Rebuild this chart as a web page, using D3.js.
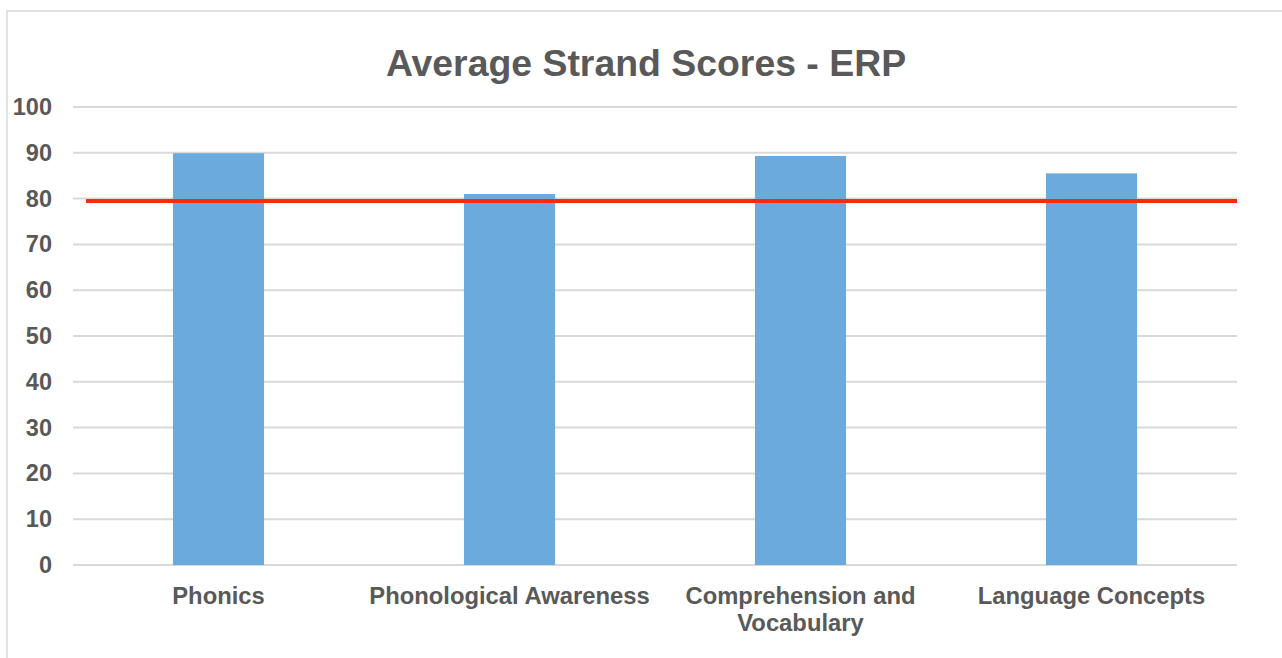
<!DOCTYPE html>
<html>
<head>
<meta charset="utf-8">
<script src="https://cdn.jsdelivr.net/npm/d3@7"></script>
<style>
  body { margin: 0; background: #fff; }
  svg { display: block; font-family: "Liberation Sans", Arial, sans-serif; }
</style>
</head>
<body>
<div id="chart"></div>
<script>
// データ
const categories = ['Phonics', 'Phonological Awareness', 'Comprehension and Vocabulary', 'Language Concepts'];
const scores = [89.9, 81.0, 89.3, 85.5];
const target = 79.5;
const yTicks = [0, 10, 20, 30, 40, 50, 60, 70, 80, 90, 100];

const width = 1282, height = 658;
const margin = { left: 73, right: 45, top: 107, bottom: 93 };

const svg = d3.select('#chart').append('svg')
  .attr('width', width)
  .attr('height', height);

// 外枠
svg.append('rect')
  .attr('x', 7).attr('y', 11)
  .attr('width', width + 10).attr('height', height + 10)
  .attr('fill', 'none')
  .attr('stroke', '#d9d9d9')
  .attr('stroke-width', 1.5);

const xScale = d3.scaleBand()
  .domain(categories)
  .range([margin.left, width - margin.right])
  .paddingInner(0.687)
  .paddingOuter(0.3435);

const yScale = d3.scaleLinear()
  .domain([0, 100])
  .range([height - margin.bottom, margin.top]);

// グリッド線
svg.append('g')
  .selectAll('line')
  .data(yTicks)
  .join('line')
  .attr('x1', margin.left)
  .attr('x2', width - margin.right)
  .attr('y1', d => yScale(d))
  .attr('y2', d => yScale(d))
  .attr('stroke', '#d9d9d9')
  .attr('stroke-width', 2);

// Y軸
const axisy = d3.axisLeft(yScale).tickValues(yTicks).tickSize(0).tickPadding(0);
const y = svg.append('g')
  .attr('transform', 'translate(52,0)')
  .call(axisy);
y.select('.domain').remove();
y.selectAll('text')
  .attr('font-size', 23.5)
  .attr('font-weight', 'bold')
  .attr('fill', '#595959')
  .attr('font-family', '"Liberation Sans", Arial, sans-serif');

// 棒
svg.append('g')
  .selectAll('rect')
  .data(categories)
  .join('rect')
  .attr('x', d => xScale(d))
  .attr('width', xScale.bandwidth())
  .attr('y', (d, i) => yScale(scores[i]))
  .attr('height', (d, i) => yScale(0) - yScale(scores[i]))
  .attr('fill', '#6aaadc');

// 目標線
svg.append('line')
  .attr('x1', 86)
  .attr('x2', width - margin.right)
  .attr('y1', yScale(target))
  .attr('y2', yScale(target))
  .attr('stroke', '#ff2a0a')
  .attr('stroke-width', 4);

// X軸ラベル
const labelLines = {
  'Comprehension and Vocabulary': ['Comprehension and', 'Vocabulary']
};
const xl = svg.append('g')
  .selectAll('text')
  .data(categories)
  .join('text')
  .attr('x', d => xScale(d) + xScale.bandwidth() / 2)
  .attr('y', 603.5)
  .attr('text-anchor', 'middle')
  .attr('font-size', 23.8)
  .attr('font-weight', 'bold')
  .attr('fill', '#595959');
xl.each(function(d) {
  const lines = labelLines[d] || [d];
  const t = d3.select(this);
  lines.forEach((l, i) => {
    t.append('tspan')
      .attr('x', xScale(d) + xScale.bandwidth() / 2)
      .attr('dy', i === 0 ? 0 : 27)
      .text(l);
  });
});

// タイトル
svg.append('text')
  .attr('x', 646)
  .attr('y', 75.5)
  .attr('text-anchor', 'middle')
  .attr('font-size', 37.4)
  .attr('font-weight', 'bold')
  .attr('fill', '#595959')
  .text('Average Strand Scores - ERP');
</script>
</body>
</html>
